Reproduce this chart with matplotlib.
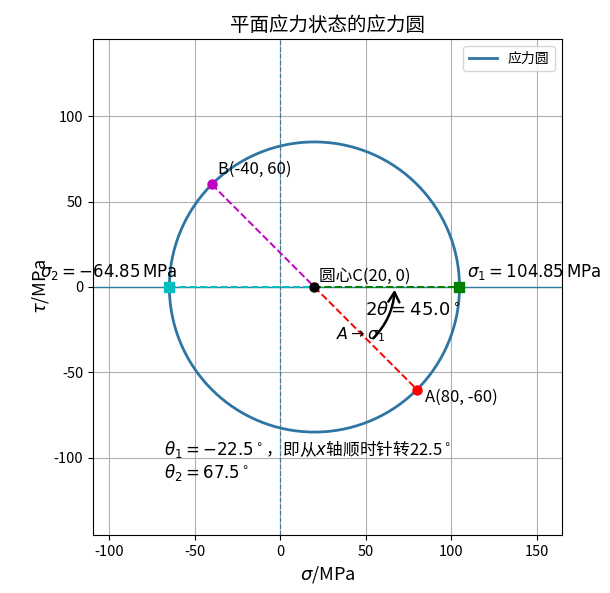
import numpy as np
import matplotlib
matplotlib.use("Agg")
import matplotlib.pyplot as plt
from matplotlib.patches import FancyArrowPatch

plt.rcParams['font.family'] = ['Noto Sans CJK SC', 'DejaVu Sans']
plt.rcParams['axes.unicode_minus'] = False
plt.rcParams['mathtext.fontset'] = 'dejavusans'

# data
point_A = (80, -60)
point_B = (-40, 60)
center = (20, 0)
radius = 84.85
sigma1 = 104.85
sigma2 = -64.85
two_theta = 45.0
theta1 = -22.5
theta2 = 67.5

fig = plt.figure(figsize=(6.1, 5.93), dpi=100)
ax = fig.add_axes([93/610, 1-535/593, (562-93)/610, (535-39)/593])

t = np.linspace(0, 2*np.pi, 400)
ax.plot(center[0] + radius*np.cos(t), center[1] + radius*np.sin(t),
        color='#2e75a3', lw=2, label='应力圆')
ax.axhline(0, color='#2a7f9a', lw=1)
ax.axvline(0, color='#3d7f95', lw=0.9, ls='--')

ax.plot([point_B[0], center[0]], [point_B[1], center[1]], '--', color='m', lw=1.4)
ax.plot([center[0], point_A[0]], [center[1], point_A[1]], '--', color='r', lw=1.4)
ax.plot([sigma2, center[0]], [0, 0], '--', color='c', lw=1.4)
ax.plot([center[0], sigma1], [0, 0], '--', color='g', lw=1.4)

ax.plot(*point_A, 'o', color='r', ms=6.5)
ax.plot(*point_B, 'o', color='m', ms=6.5)
ax.plot(*center, 'o', color='k', ms=6.5)
ax.plot(sigma1, 0, 's', color='g', ms=6.5)
ax.plot(sigma2, 0, 's', color='c', ms=6.5)

ax.text(point_A[0] + 4.5, point_A[1] - 4.5, f'A({point_A[0]}, {point_A[1]})',
        fontsize=12, va='center', ha='left')
ax.text(point_B[0] + 3.5, point_B[1] + 9, f'B({point_B[0]}, {point_B[1]})',
        fontsize=12, va='center', ha='left')
ax.text(center[0] + 2.5, 6.5, f'圆心C({center[0]}, {center[1]})',
        fontsize=12, va='center', ha='left')
ax.text(sigma1 + 4.5, 9, rf'$\sigma_1 = {sigma1}\,\mathrm{{MPa}}$',
        fontsize=12, va='center', ha='left')
ax.text(sigma2 + 5, 9, rf'$\sigma_2 = {sigma2}\,\mathrm{{MPa}}$',
        fontsize=12, va='center', ha='right')

r_arc = 47
a0 = np.deg2rad(-two_theta)
start = (center[0] + r_arc*np.cos(a0), center[1] + r_arc*np.sin(a0) + 2)
end = (center[0] + r_arc, 0)
arr = FancyArrowPatch(start, end, connectionstyle='arc3,rad=0.2',
                      arrowstyle='->,head_width=4,head_length=7', color='k', lw=1.8,
                      mutation_scale=1)
ax.add_patch(arr)
ax.text(49.5, -13.5, rf'$2\theta = {two_theta}^\circ$', fontsize=13,
        va='center', ha='left')
ax.text(32.5, -28, r'$A\rightarrow\sigma_1$', fontsize=11.5, va='center', ha='left')

ax.text(-68, -94.5, rf'$\theta_1 = {theta1}^\circ$，即从$x$轴顺时针转{abs(theta1)}$^\circ$',
        fontsize=12, va='center', ha='left')
ax.text(-68, -108.5, rf'$\theta_2 = {theta2}^\circ$', fontsize=12, va='center', ha='left')

ax.set_xlim(-109.5, 164.8)
ax.set_ylim(-145, 145)
ax.set_aspect('equal', adjustable='box')
ax.set_xticks([-100, -50, 0, 50, 100, 150])
ax.set_yticks([-100, -50, 0, 50, 100])
ax.tick_params(labelsize=10.5)
ax.grid(True, color='#b0b0b0', lw=0.8)
ax.set_xlabel(r'$\sigma$/MPa', fontsize=13)
ax.set_ylabel(r'$\tau$/MPa', fontsize=13, labelpad=2)
ax.set_title('平面应力状态的应力圆', fontsize=14)
ax.legend(loc='upper right', fontsize=10)

fig.savefig('out.png', dpi=100)
